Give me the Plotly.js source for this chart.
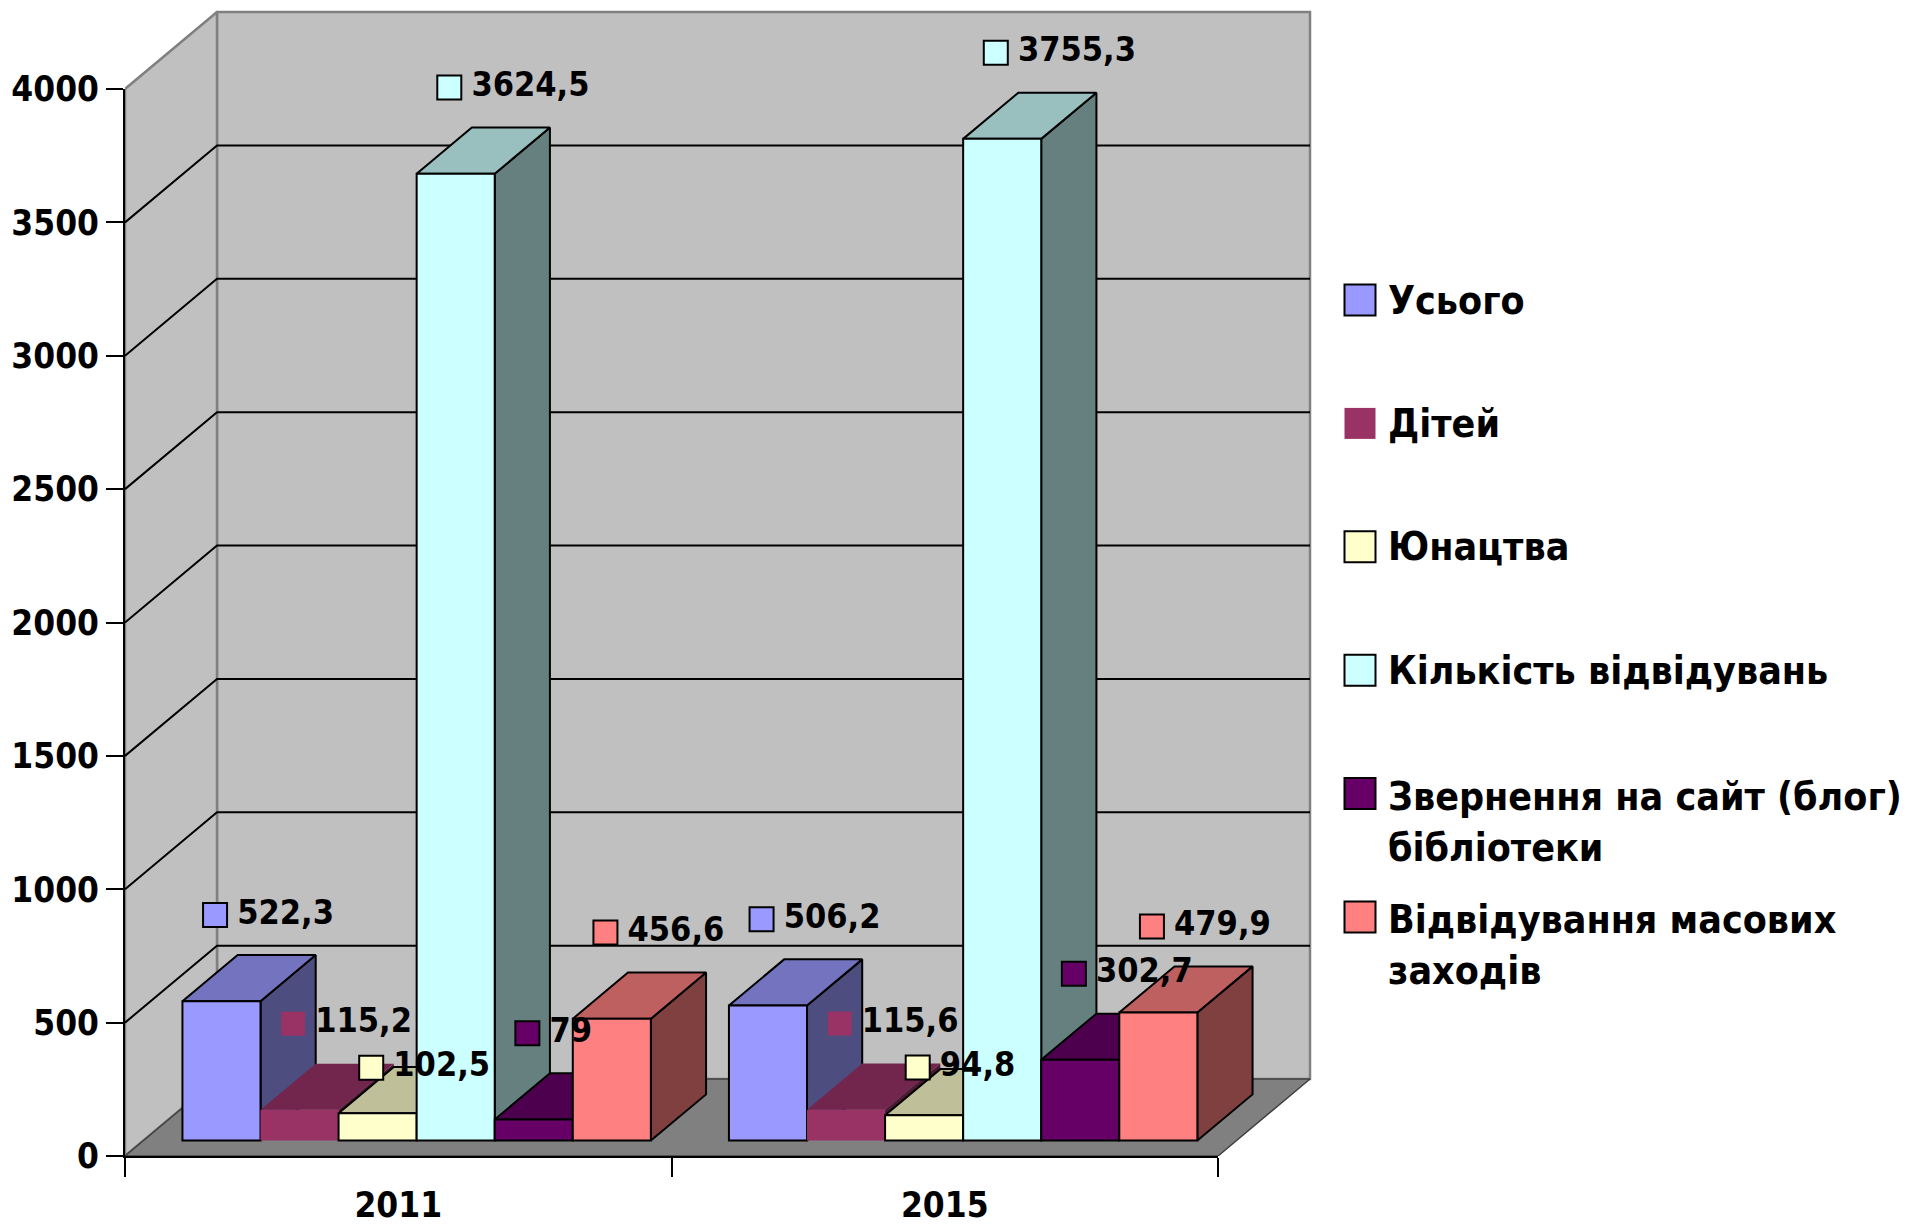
<!DOCTYPE html>
<html>
<head>
<meta charset="utf-8">
<script src="https://cdn.plot.ly/plotly-3.0.1.min.js"></script>
<style>
html,body{margin:0;padding:0;background:#ffffff;}
#chart{width:1915px;height:1231px;}
</style>
</head>
<body>
<div id="chart"></div>
<script>
// ---------------- DATA ----------------
const categories = ['2011', '2015'];
const seriesNames = ['Усього', 'Дітей', 'Юнацтва', 'Кількість відвідувань',
  'Звернення на сайт (блог) бібліотеки', 'Відвідування масових заходів'];
const legendLabels = ['Усього', 'Дітей', 'Юнацтва', 'Кількість відвідувань',
  'Звернення на сайт (блог)<br>бібліотеки', 'Відвідування масових<br>заходів'];
const usogo      = [522.3, 506.2];
const ditei      = [115.2, 115.6];
const yunatstva  = [102.5, 94.8];
const vidviduvan = [3624.5, 3755.3];
const zvernennia = [79, 302.7];
const masovi     = [456.6, 479.9];
const yTickVals  = [0, 500, 1000, 1500, 2000, 2500, 3000, 3500, 4000];
const seriesValues = [usogo, ditei, yunatstva, vidviduvan, zvernennia, masovi];

// ---------------- STYLE ----------------
const seriesColors = ['#9999FF', '#993366', '#FFFFCC', '#CCFFFF', '#660066', '#FF8080'];
const seriesOutlined = [true, false, true, true, true, true];
const FONT = "'DejaVu Sans Condensed', 'DejaVu Sans', sans-serif";
const TICK_SIZE = 35, CAT_SIZE = 35, LABEL_SIZE = 34, LEGEND_SIZE = 39;

function shade(hex, f) {
  const n = parseInt(hex.slice(1), 16);
  const r = Math.round(((n >> 16) & 255) * f), g = Math.round(((n >> 8) & 255) * f), b = Math.round((n & 255) * f);
  return 'rgb(' + r + ',' + g + ',' + b + ')';
}

// ---------------- GEOMETRY ----------------
const W = 1915, H = 1231;
const PAD = 4;
const margin = {l: 125, r: 0, t: 12 - PAD, b: 75};
const paperW = W - margin.l - margin.r;
const paperH = H - margin.t - margin.b;
const frontW = 1093, frontH = 1067;       // px of front plane (2 categories, 0..4000)
const depthPx = {x: 92, y: 77};          // oblique depth offset in px
const nCat = categories.length;
const yTop = yTickVals[yTickVals.length - 1];
const catPx = frontW / nCat;
const pxPerUnit = frontH / yTop;
const xMin = -0.5, xFrontMax = nCat - 0.5;
const chartWpx = frontW + depthPx.x + PAD, chartHpx = frontH + depthPx.y + PAD;
const xMax = xMin + chartWpx / catPx;
const yMax = chartHpx / pxPerUnit;
const dxU = depthPx.x / catPx, dyU = depthPx.y / pxPerUnit;
const zFront = 0.2, zBack = 0.8;
const nSer = seriesValues.length;
const barW = 1 / (nSer + 1);

function P(x, y, z) { return [x + z * dxU, y + z * dyU]; }
function poly(pts) {
  const xs = [], ys = [];
  pts.forEach(p => { if (p === null) { xs.push(null); ys.push(null); } else { xs.push(p[0]); ys.push(p[1]); } });
  return {x: xs, y: ys};
}

const traces = [];
const base = {xaxis: 'x', yaxis: 'y', showlegend: false, hoverinfo: 'skip', mode: 'lines'};

// walls & floor
const wallFill = '#C0C0C0', floorFill = '#808080', edgeGray = '#808080';
let p = poly([P(xMin, 0, 1), P(xFrontMax, 0, 1), P(xFrontMax, yTop, 1), P(xMin, yTop, 1), P(xMin, 0, 1)]);
traces.push(Object.assign({}, base, p, {fill: 'toself', fillcolor: wallFill, line: {color: edgeGray, width: 2.5}}));
p = poly([P(xMin, 0, 0), P(xMin, yTop, 0), P(xMin, yTop, 1), P(xMin, 0, 1), P(xMin, 0, 0)]);
traces.push(Object.assign({}, base, p, {fill: 'toself', fillcolor: wallFill, line: {color: edgeGray, width: 2.5}}));
p = poly([P(xMin, 0, 0), P(xFrontMax, 0, 0), P(xFrontMax, 0, 1), P(xMin, 0, 1), P(xMin, 0, 0)]);
traces.push(Object.assign({}, base, p, {fill: 'toself', fillcolor: floorFill, line: {color: '#404040', width: 1.5}}));

// gridlines on walls
const gridPts = [];
yTickVals.filter(v => v > 0 && v < yTop).forEach(v => {
  gridPts.push(P(xMin, v, 0), P(xMin, v, 1), P(xFrontMax, v, 1), null);
});
traces.push(Object.assign({}, base, poly(gridPts), {line: {color: '#000000', width: 2}}));

// bar geometry
function barX0(c, i) { return c - 0.5 + (0.5 + i) * barW; }

// side faces
seriesValues.forEach((vals, i) => {
  const pts = [];
  vals.forEach((v, c) => {
    const x1 = barX0(c, i) + barW;
    pts.push(P(x1, 0, zFront), P(x1, v, zFront), P(x1, v, zBack), P(x1, 0, zBack), P(x1, 0, zFront), null);
  });
  traces.push(Object.assign({}, base, poly(pts), {
    fill: 'toself', fillcolor: shade(seriesColors[i], 0.5),
    line: {color: '#000000', width: seriesOutlined[i] ? 2 : 0}
  }));
});
// top faces
seriesValues.forEach((vals, i) => {
  const pts = [];
  vals.forEach((v, c) => {
    const x0 = barX0(c, i), x1 = x0 + barW;
    pts.push(P(x0, v, zFront), P(x1, v, zFront), P(x1, v, zBack), P(x0, v, zBack), P(x0, v, zFront), null);
  });
  traces.push(Object.assign({}, base, poly(pts), {
    fill: 'toself', fillcolor: shade(seriesColors[i], 0.75),
    line: {color: '#000000', width: seriesOutlined[i] ? 2 : 0}
  }));
});

// front faces: real bars on the category axis
seriesValues.forEach((vals, i) => {
  traces.push({
    type: 'bar', name: seriesNames[i], x: categories, y: vals,
    base: vals.map(() => zFront * dyU),
    offset: -0.5 + (0.5 + i) * barW + zFront * dxU, width: barW,
    xaxis: 'x2', yaxis: 'y2', showlegend: false, hoverinfo: 'skip',
    marker: {color: seriesColors[i], line: {color: '#000000', width: seriesOutlined[i] ? 2 : 0}}
  });
});

// data labels (above the top face, nudged down when they would collide with the previous label)
const labelDxPx = -34, labelDyPx = 40, labelStepPx = 44, labelHPx = 40;
const labelText = seriesValues.map(vals => vals.map(v => String(v).replace('.', ',')));
const labelPos = seriesValues.map(() => []);
categories.forEach((cat, c) => {
  let prev = null;
  seriesValues.forEach((vals, i) => {
    const v = vals[c];
    const xu = barX0(c, i) + barW / 2 + 0.5 * dxU + labelDxPx / catPx;
    let yu = v + zBack * dyU + labelDyPx / pxPerUnit;
    const wPx = 24 + 8 + labelText[i][c].length * 0.6 * LABEL_SIZE;
    if (prev) {
      const xOver = (xu - prev.x) * catPx < prev.w;
      const yOver = Math.abs(yu - prev.y) * pxPerUnit < labelHPx;
      if (xOver && yOver) yu = prev.y - labelStepPx / pxPerUnit;
    }
    labelPos[i][c] = [xu, yu];
    prev = {x: xu, y: yu, w: wPx};
  });
});
seriesValues.forEach((vals, i) => {
  traces.push({
    type: 'scatter', mode: 'markers+text', xaxis: 'x3', yaxis: 'y3', showlegend: false, hoverinfo: 'skip',
    x: labelPos[i].map(q => q[0]), y: labelPos[i].map(q => q[1]),
    text: labelText[i].map(t => '\u2009' + t),
    textposition: 'middle right', cliponaxis: false,
    textfont: {family: FONT, size: LABEL_SIZE, color: '#000000', weight: 'bold'},
    marker: {symbol: 'square', size: 24, color: seriesColors[i], line: {color: '#000000', width: seriesOutlined[i] ? 2 : 0}}
  });
});

// legend (pixel-space axis x4/y4)
const legX = 1360, legTextX = 1386, legY0 = 300, legStep = 123.4, legLineH = 56;
traces.push({
  type: 'scatter', mode: 'markers', xaxis: 'x4', yaxis: 'y4', showlegend: false, hoverinfo: 'skip',
  x: seriesNames.map(() => legX), y: seriesNames.map((s, i) => legY0 + i * legStep),
  cliponaxis: false,
  marker: {symbol: 'square', size: 31, color: seriesColors,
    line: {color: '#000000', width: seriesOutlined.map(o => o ? 2 : 0)}}
});
const annotations = legendLabels.map((t, i) => {
  const lines = t.split('<br>').length;
  return {
    xref: 'x4', yref: 'y4', x: legTextX, y: legY0 + i * legStep + (lines - 1) * legLineH / 2,
    xanchor: 'left', yanchor: 'middle', align: 'left', showarrow: false, text: t,
    font: {family: FONT, size: LEGEND_SIZE, color: '#000000', weight: 'bold'}
  };
});

const hidden = {visible: false, showgrid: false, zeroline: false, fixedrange: true};
const layout = {
  width: W, height: H, margin: margin,
  paper_bgcolor: '#ffffff', plot_bgcolor: 'rgba(0,0,0,0)',
  showlegend: false, barmode: 'overlay',
  xaxis: Object.assign({}, hidden, {domain: [0, chartWpx / paperW], range: [xMin, xMax], anchor: 'y'}),
  yaxis: Object.assign({}, hidden, {domain: [0, 1], range: [0, yMax], anchor: 'x'}),
  xaxis3: Object.assign({}, hidden, {domain: [0, chartWpx / paperW], range: [xMin, xMax], anchor: 'y3'}),
  yaxis3: Object.assign({}, hidden, {domain: [0, 1], range: [0, yMax], anchor: 'x3'}),
  xaxis4: Object.assign({}, hidden, {domain: [0, 1], range: [margin.l, W - margin.r], anchor: 'y4'}),
  yaxis4: Object.assign({}, hidden, {domain: [0, 1], range: [H - margin.b, margin.t], anchor: 'x4'}),
  xaxis2: {
    type: 'category', categoryorder: 'array', categoryarray: categories,
    domain: [0, frontW / paperW], range: [-0.5, nCat - 0.5], anchor: 'y2',
    tickson: 'boundaries', ticks: 'outside', ticklen: 19, tickwidth: 2, tickcolor: '#000000',
    showline: true, linewidth: 2, linecolor: '#000000', showgrid: false, zeroline: false,
    ticklabelstandoff: 17, fixedrange: true,
    tickfont: {family: FONT, size: CAT_SIZE, color: '#000000', weight: 'bold'}
  },
  yaxis2: {
    domain: [0, frontH / paperH], range: [0, yTop], anchor: 'x2',
    tickmode: 'array', tickvals: yTickVals, ticktext: yTickVals.map(String),
    ticks: 'outside', ticklen: 17, tickwidth: 2, tickcolor: '#000000',
    showline: true, linewidth: 2, linecolor: '#000000', showgrid: false, zeroline: false,
    ticklabelstandoff: 0, fixedrange: true,
    tickfont: {family: FONT, size: TICK_SIZE, color: '#000000', weight: 'bold'}
  },
  annotations: annotations
};

Plotly.newPlot('chart', traces, layout, {staticPlot: true, displayModeBar: false});
</script>
</body>
</html>
